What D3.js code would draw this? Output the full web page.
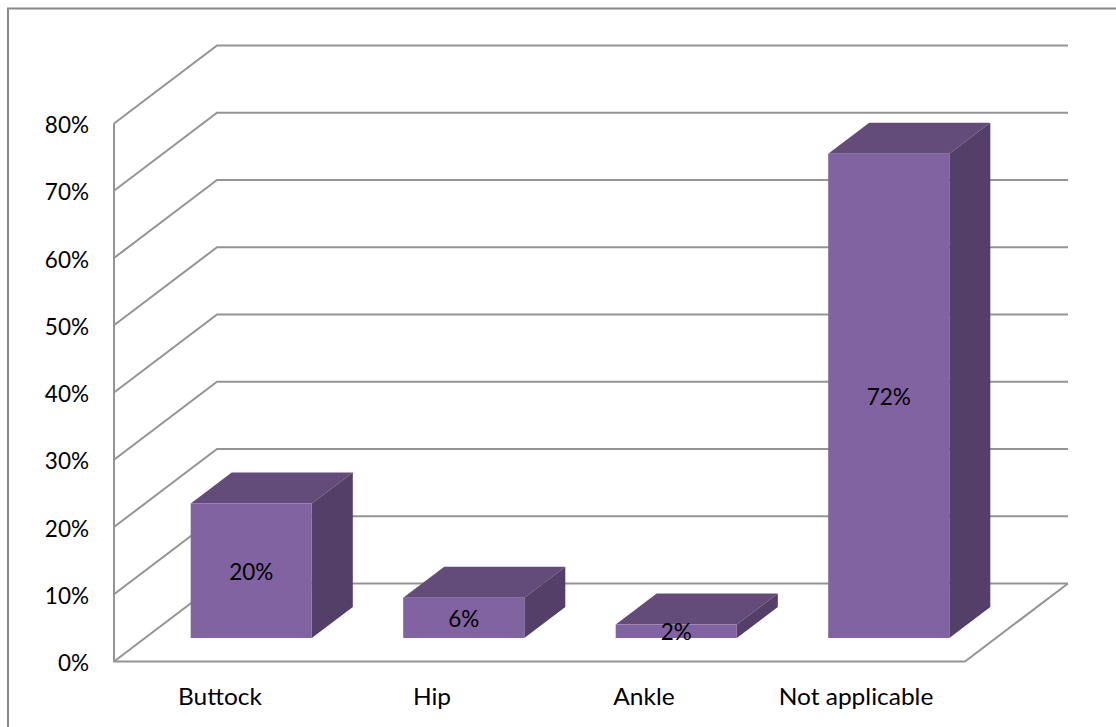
<!DOCTYPE html>
<html><head><meta charset="utf-8">
<script src="https://cdn.jsdelivr.net/npm/d3@7"></script>
<style>html,body{margin:0;padding:0;background:#fff;overflow:hidden}svg{display:block}
text{font-family:Lato,"Open Sans",sans-serif;fill:#000}
.cat text{transform-box:fill-box;transform-origin:center;transform:scaleX(1.09)}</style></head>
<body><svg id="c" width="1116" height="727"></svg>
<script>
const categories = ["Buttock","Hip","Ankle","Not applicable"];
const values = [20,6,2,72];
const tickValues = [0,10,20,30,40,50,60,70,80];

const W=1116,H=727;
const svg=d3.select("#c");
const frameC="#8a8a8a", gridC="#949494";
const plot={x0:114,x1:965,y0:661.5,y1:123.5,dx:103,dy:-78};
const bar={dx:41,dy:-31,lift:-23.5};

const y=d3.scaleLinear().domain([0,80]).range([plot.y0,plot.y1]);
const xBar=d3.scaleBand().domain(categories).range([145,995]).paddingInner(0.43).paddingOuter(0.215);
const xLab=d3.scaleBand().domain(categories).range([114,962]);
const fmt=d=>d+"%";

svg.append("path").attr("d",`M8,${H+5}V8.5H${W+5}`).attr("fill","none").attr("stroke",frameC).attr("stroke-width",2);

const g=svg.append("g").attr("fill","none").attr("stroke",gridC).attr("stroke-width",2);
g.selectAll("path.grid").data(tickValues).join("path").attr("class","grid")
 .attr("d",d=>`M${plot.x0},${y(d)}L${plot.x0+plot.dx},${y(d)+plot.dy}H${plot.x1+plot.dx}`);
g.append("path").attr("d",`M${plot.x0},${y(80)}V${y(0)}H${plot.x1}L${plot.x1+plot.dx},${y(0)+plot.dy}`);

const colors={front:"#8263a2",top:"#634c7a",side:"#533f68"};
const b=svg.append("g").selectAll("g").data(categories.map((c,i)=>({c,v:values[i]}))).join("g");
const base=y(0)+bar.lift;
const h=d=>y(0)-y(d.v);
const X=d=>xBar(d.c), BW=xBar.bandwidth();
b.append("path").attr("fill",colors.top).attr("d",d=>{const t=base-h(d);return `M${X(d)},${t}l${bar.dx},${bar.dy}h${BW}l${-bar.dx},${-bar.dy}Z`});
b.append("path").attr("fill",colors.side).attr("d",d=>{const t=base-h(d),r=X(d)+BW;return `M${r},${t}l${bar.dx},${bar.dy}V${base+bar.dy}L${r},${base}Z`});
b.append("rect").attr("fill",colors.front).attr("x",X).attr("y",d=>base-h(d)).attr("width",BW).attr("height",h);
b.append("text").attr("x",d=>X(d)+BW/2).attr("y",d=>base-h(d)/2+1).attr("dy","0.36em").attr("text-anchor","middle")
 .attr("font-size",22.5).text(d=>fmt(d.v));

const ax=svg.append("g").attr("transform","translate(89,1)")
 .call(d3.axisLeft(y).tickValues(tickValues).tickFormat(fmt).tickSize(0).tickPadding(0));
ax.select(".domain").remove();
ax.selectAll("text").attr("font-size",22.5).attr("dy","0.36em").style("font-family","Lato");
const bx=svg.append("g").attr("class","cat").attr("transform","translate(0,697)")
 .call(d3.axisBottom(xLab).tickSize(0).tickPadding(0));
bx.select(".domain").remove();
bx.selectAll("text").attr("font-size",22.5).attr("y",0).attr("dy","0.36em").style("font-family","Lato");
</script></body></html>
